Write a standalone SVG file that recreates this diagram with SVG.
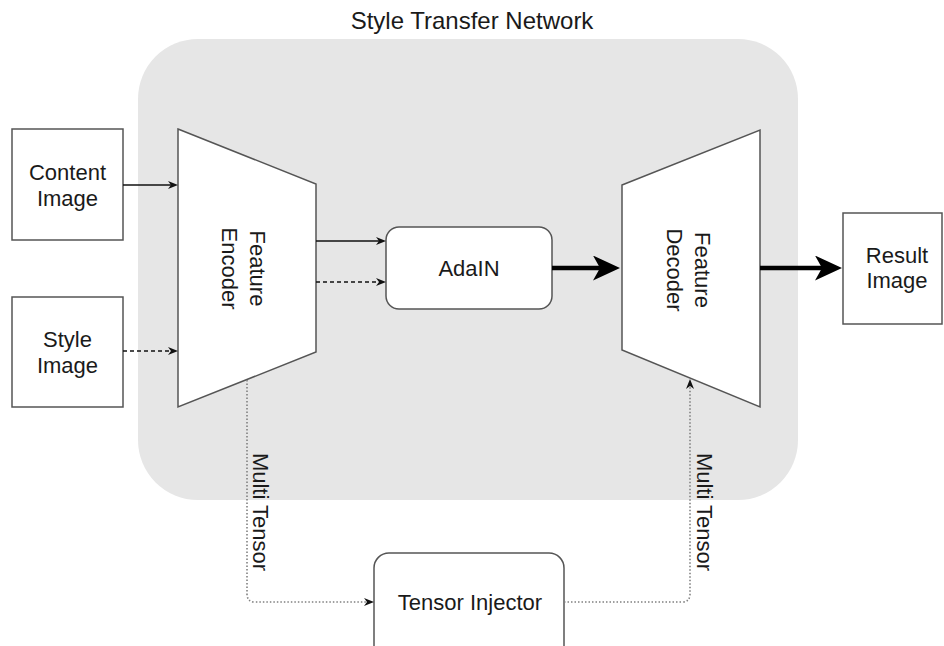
<svg xmlns="http://www.w3.org/2000/svg" width="944" height="646" viewBox="0 0 944 646">
<style>
  .t { font-family: "Liberation Sans", Arial, sans-serif; font-size: 22px; fill: #1a1a1a; }
  .node { fill: #ffffff; stroke: #555555; stroke-width: 1.5; }
  .thin { fill: none; stroke: #111111; stroke-width: 1.3; }
  .dash { stroke-dasharray: 4 3; }
  .thick { fill: none; stroke: #000000; stroke-width: 4.5; }
  .dot { fill: none; stroke: #808080; stroke-width: 1.6; stroke-dasharray: 1.5 2; }
</style>
<defs>
  <marker id="arr" viewBox="0 0 10 8" refX="4" refY="4" markerWidth="10" markerHeight="8" markerUnits="userSpaceOnUse" orient="auto">
    <path d="M0,0 L10,4 L0,8 L3,4 Z" fill="#111111"/>
  </marker>
  <marker id="big" viewBox="0 0 27 25" refX="8" refY="12.5" markerWidth="27" markerHeight="25" markerUnits="userSpaceOnUse" orient="auto">
    <path d="M0,0 L27,12.5 L0,25 L7,12.5 Z" fill="#000000"/>
  </marker>
</defs>
<rect width="944" height="646" fill="#ffffff"/>
<g id="network">
  <rect x="138" y="39" width="660" height="461" rx="60" ry="60" fill="#e6e6e6"/>
  <text class="t" x="472" y="29" text-anchor="middle" style="font-size:24px">Style Transfer Network</text>
</g>
<g id="content-image">
  <rect class="node" x="12" y="129" width="111" height="111"/>
  <text class="t" x="67.5" y="180" text-anchor="middle">Content</text>
  <text class="t" x="67.5" y="206" text-anchor="middle">Image</text>
</g>
<g id="style-image">
  <rect class="node" x="12" y="297" width="111" height="110"/>
  <text class="t" x="67.5" y="347" text-anchor="middle">Style</text>
  <text class="t" x="67.5" y="373" text-anchor="middle">Image</text>
</g>
<g id="feature-encoder">
  <polygon class="node" points="178,129 316,184 316,352 178,407"/>
  <text class="t" transform="translate(244,268.5) rotate(90)" text-anchor="middle"><tspan x="0" y="-6">Feature</tspan><tspan x="0" y="22">Encoder</tspan></text>
</g>
<g id="adain">
  <rect class="node" x="386" y="227" width="166" height="82" rx="13" ry="13"/>
  <text class="t" x="469" y="276" text-anchor="middle">AdaIN</text>
</g>
<g id="feature-decoder">
  <polygon class="node" points="622,185 760,130 760,407 622,350"/>
  <text class="t" transform="translate(687,270) rotate(90)" text-anchor="middle"><tspan x="0" y="-8">Feature</tspan><tspan x="0" y="20">Decoder</tspan></text>
</g>
<g id="result-image">
  <rect class="node" x="843" y="213" width="99" height="111"/>
  <text class="t" x="897" y="263" text-anchor="middle">Result</text>
  <text class="t" x="897" y="288" text-anchor="middle">Image</text>
</g>
<g id="tensor-injector">
  <rect class="node" x="374" y="553" width="190" height="110" rx="15" ry="15"/>
  <text class="t" x="470" y="610" text-anchor="middle">Tensor Injector</text>
</g>
<g id="connectors">
  <line class="thin" x1="123" y1="185" x2="172" y2="185" marker-end="url(#arr)"/>
  <line class="thin dash" x1="123" y1="351" x2="172" y2="351" marker-end="url(#arr)"/>
  <line class="thin" x1="316" y1="241" x2="380" y2="241" marker-end="url(#arr)"/>
  <line class="thin dash" x1="316" y1="282" x2="380" y2="282" marker-end="url(#arr)"/>
  <line class="thick" x1="552" y1="268" x2="601" y2="268" marker-end="url(#big)"/>
  <line class="thick" x1="760" y1="268" x2="823" y2="268" marker-end="url(#big)"/>
  <path class="dot" d="M247,380 V594 Q247,602 255,602 H368" marker-end="url(#arr)"/>
  <path class="dot" d="M564,602 H682 Q690,602 690,594 V385" marker-end="url(#arr)"/>
  <text class="t" transform="translate(253,512) rotate(90)" text-anchor="middle">Multi Tensor</text>
  <text class="t" transform="translate(697,512) rotate(90)" text-anchor="middle">Multi Tensor</text>
</g>
</svg>
